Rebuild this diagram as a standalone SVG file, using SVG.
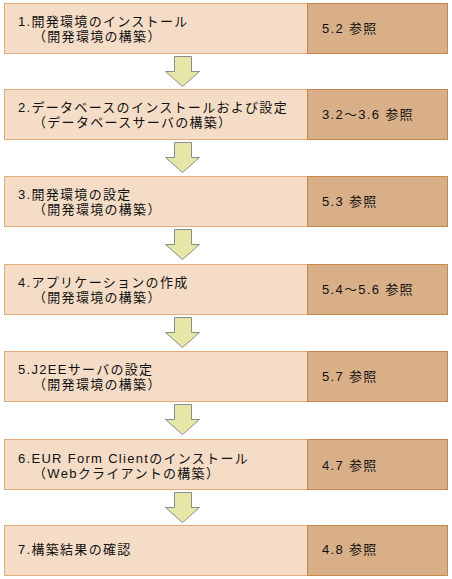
<svg xmlns="http://www.w3.org/2000/svg" width="452" height="579" viewBox="0 0 452 579">
<defs>
<style>
.bg{fill:#ffffff}
.step{fill:#F5DCC6;stroke:#E2AC7E;stroke-width:1}
.ref{fill:#D9AF87;stroke:#C4874F;stroke-width:1}
.t{font-family:"Liberation Sans","Noto Sans CJK JP","Noto Sans CJK SC",sans-serif;font-size:13px;letter-spacing:1.3px;fill:#111111}
.arrow{fill:#E6E6A8;stroke:#8C8C8C;stroke-width:1;stroke-linejoin:miter}
</style>
<path id="arr" class="arrow" d="M174.5,0 H191.5 V15 H199.5 L182.5,30 L165.5,15 H174.5 Z"/>
</defs>
<rect class="bg" x="0" y="0" width="452" height="579"/>

<g id="step1">
<rect class="step" x="4.5" y="3.5" width="303" height="50"/>
<rect class="ref" x="307.5" y="3.5" width="140" height="50"/>
<text class="t" x="18" y="26">1.開発環境のインストール</text>
<text class="t" x="33" y="41">（開発環境の構築）</text>
<text class="t" x="322" y="33">5.2 参照</text>
</g>

<g id="step2">
<rect class="step" x="4.5" y="89.5" width="303" height="50"/>
<rect class="ref" x="307.5" y="89.5" width="140" height="50"/>
<text class="t" x="18" y="112">2.データベースのインストールおよび設定</text>
<text class="t" x="33" y="127">（データベースサーバの構築）</text>
<text class="t" x="322" y="119">3.2～3.6 参照</text>
</g>

<g id="step3">
<rect class="step" x="4.5" y="176.5" width="303" height="50"/>
<rect class="ref" x="307.5" y="176.5" width="140" height="50"/>
<text class="t" x="18" y="199">3.開発環境の設定</text>
<text class="t" x="33" y="214">（開発環境の構築）</text>
<text class="t" x="322" y="206">5.3 参照</text>
</g>

<g id="step4">
<rect class="step" x="4.5" y="264.5" width="303" height="50"/>
<rect class="ref" x="307.5" y="264.5" width="140" height="50"/>
<text class="t" x="18" y="287">4.アプリケーションの作成</text>
<text class="t" x="33" y="302">（開発環境の構築）</text>
<text class="t" x="322" y="294">5.4～5.6 参照</text>
</g>

<g id="step5">
<rect class="step" x="4.5" y="351.5" width="303" height="50"/>
<rect class="ref" x="307.5" y="351.5" width="140" height="50"/>
<text class="t" x="18" y="374">5.J2EEサーバの設定</text>
<text class="t" x="33" y="389">（開発環境の構築）</text>
<text class="t" x="322" y="381">5.7 参照</text>
</g>

<g id="step6">
<rect class="step" x="4.5" y="439.5" width="303" height="50"/>
<rect class="ref" x="307.5" y="439.5" width="140" height="50"/>
<text class="t" x="18" y="463">6.EUR Form Clientのインストール</text>
<text class="t" x="33" y="478">（Webクライアントの構築）</text>
<text class="t" x="322" y="470">4.7 参照</text>
</g>

<g id="step7">
<rect class="step" x="4.5" y="525.5" width="303" height="50"/>
<rect class="ref" x="307.5" y="525.5" width="140" height="50"/>
<text class="t" x="18" y="554">7.構築結果の確認</text>
<text class="t" x="322" y="554">4.8 参照</text>
</g>

<g id="connectors">
<use href="#arr" y="56.5"/>
<use href="#arr" y="142.5"/>
<use href="#arr" y="229.5"/>
<use href="#arr" y="317.5"/>
<use href="#arr" y="404.5"/>
<use href="#arr" y="492.5"/>
</g>
</svg>
